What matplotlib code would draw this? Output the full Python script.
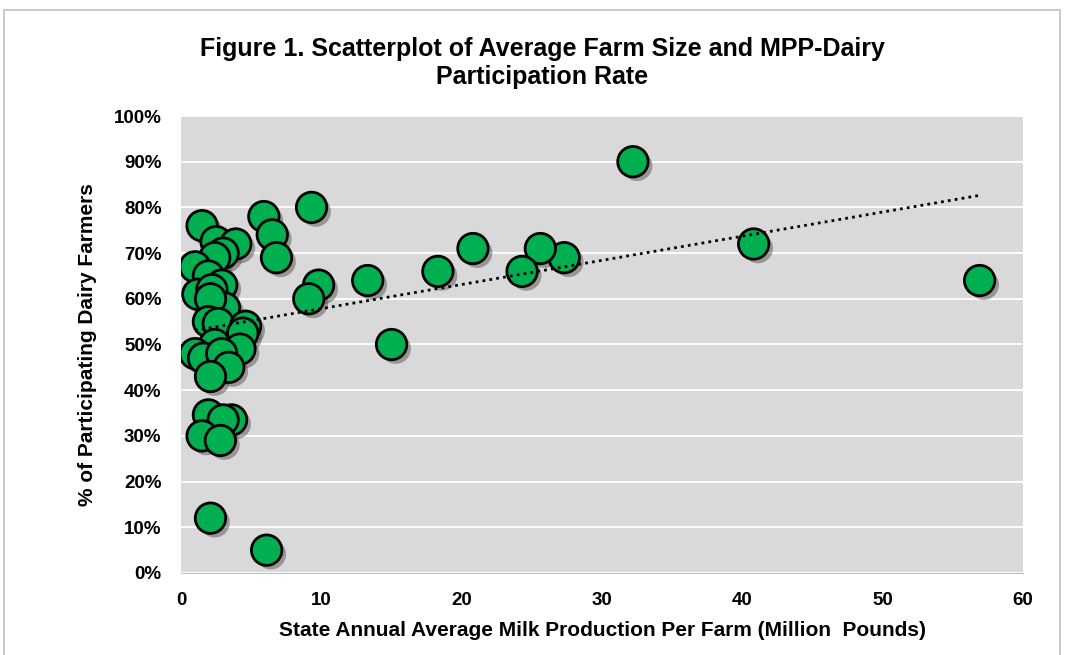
import matplotlib
matplotlib.use("Agg")
import matplotlib.pyplot as plt
import matplotlib.patheffects as pe
from matplotlib.ticker import PercentFormatter
import numpy as np

# average milk production per farm (million lbs) and MPP-Dairy participation (%)
farm_size = [32.2, 40.8, 56.9, 27.3, 25.6, 24.3, 20.8, 18.3, 15.0, 13.3,
             9.8, 9.1, 9.3, 5.9, 6.5, 6.8, 6.1, 2.1,
             1.5, 2.5, 3.9, 3.0, 2.4, 1.0, 1.95, 2.9, 1.2, 2.2, 2.5, 3.1,
             2.1, 1.95, 2.65, 4.6, 4.4, 2.4, 4.2, 1.0, 1.6, 2.9, 3.4, 2.1,
             1.95, 3.6, 3.0, 1.5, 2.8]
participation = [90, 72, 64, 69, 71, 66, 71, 66, 50, 64,
                 63, 60, 80, 78, 74, 69, 5, 12,
                 76, 72.5, 72, 70, 69, 67, 65, 63, 61, 62, 58, 58,
                 60, 55, 54.6, 54, 52.5, 50, 49, 48, 47, 48, 45, 43,
                 34.6, 33.5, 33.5, 30, 29]

x_ticks = [0, 10, 20, 30, 40, 50, 60]
y_ticks = [0, 10, 20, 30, 40, 50, 60, 70, 80, 90, 100]

plt.rcParams['font.family'] = ['Liberation Sans', 'DejaVu Sans']
plt.rcParams['font.weight'] = 'bold'

fig = plt.figure(figsize=(10.68, 6.55), dpi=100)
ax = fig.add_axes([0.1695, 0.1252, 0.7885, 0.6977])
ax.set_facecolor('#D9D9D9')

# chart border
fig.patches.append(plt.Rectangle((4 / 1068, -0.01), 1056 / 1068, 1.01 - 10 / 655,
                                 transform=fig.transFigure, fill=False,
                                 edgecolor='#BFBFBF', linewidth=1.2))

ax.scatter(farm_size, participation, s=480, color='#00B050', edgecolors='black',
           linewidths=2, zorder=3,
           path_effects=[pe.SimplePatchShadow(offset=(3, -3), shadow_rgbFace='#555555', alpha=0.5),
                         pe.Normal()])

# linear trend line, drawn over the markers
xs = np.array(farm_size)
coef = np.polyfit(xs, participation, 1)
xt = np.array([min(xs), max(xs)])
ax.plot(xt, np.polyval(coef, xt), linestyle=(0, (1, 1.5)), color='black', linewidth=2, zorder=4)

ax.set_xlim(0, 60)
ax.set_ylim(0, 100)
ax.set_xticks(x_ticks)
ax.set_yticks(y_ticks)
ax.yaxis.set_major_formatter(PercentFormatter(decimals=0))
ax.grid(axis='y', color='white', linewidth=1.3, zorder=0)
ax.set_axisbelow(True)
for side in ['top', 'right', 'left']:
    ax.spines[side].set_visible(False)
ax.spines['bottom'].set_color('#BFBFBF')
ax.tick_params(axis='y', length=0, labelsize=13.5, pad=14)
ax.tick_params(axis='x', length=0, labelsize=13.5, pad=14)
for lbl in ax.get_xticklabels() + ax.get_yticklabels():
    lbl.set_fontweight('bold')

ax.set_xlabel('State Annual Average Milk Production Per Farm (Million  Pounds)',
              fontsize=15, fontweight='bold', labelpad=8)
ax.set_ylabel('% of Participating Dairy Farmers', fontsize=15, fontweight='bold', labelpad=12)
fig.suptitle('Figure 1. Scatterplot of Average Farm Size and MPP-Dairy\nParticipation Rate',
             x=0.508, y=0.943, fontsize=18, fontweight='bold', linespacing=1.2)

fig.savefig('out.png', dpi=100)
